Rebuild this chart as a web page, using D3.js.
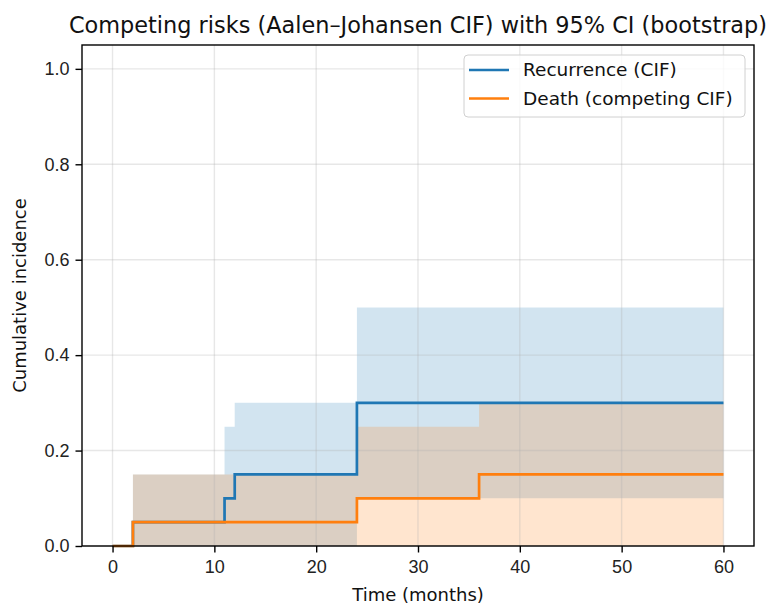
<!DOCTYPE html>
<html>
<head>
    <title>Competing risks CIF</title>
    <script src="https://d3js.org/d3.v7.min.js"></script>
    <style>
        body { margin: 0; background: #fff; }
        svg { font-family: "DejaVu Sans", sans-serif; }
        .tick text { font-size: 18px; fill: #222; }
        .tick line { stroke: #000; stroke-width: 1.4; }
        .domain { display: none; }
    </style>
</head>
<body>
    <div id="chart"></div>
    <script>
        // step-function estimates (step changes at each time, held until the next)
        var times = [0, 2, 11, 12, 24, 36, 60];
        var recurrenceCif = [0, 0.05, 0.10, 0.15, 0.30, 0.30, 0.30];
        var recurrenceLo  = [0, 0.00, 0.00, 0.00, 0.10, 0.10, 0.10];
        var recurrenceHi  = [0, 0.15, 0.25, 0.30, 0.50, 0.50, 0.50];
        var deathCif = [0, 0.05, 0.05, 0.05, 0.10, 0.15, 0.15];
        var deathLo  = [0, 0.00, 0.00, 0.00, 0.00, 0.00, 0.00];
        var deathHi  = [0, 0.15, 0.15, 0.15, 0.25, 0.30, 0.30];
        var xTicks = [0, 10, 20, 30, 40, 50, 60];
        var yTicks = [0, 0.2, 0.4, 0.6, 0.8, 1.0];
        var seriesNames = ["Recurrence (CIF)", "Death (competing CIF)"];

        var width = 772, height = 615;
        var margin = {top: 45, right: 18, bottom: 69, left: 82};
        var innerW = width - margin.left - margin.right,
            innerH = height - margin.top - margin.bottom;

        var color = d3.scaleOrdinal()
            .domain(seriesNames)
            .range(["#1f77b4", "#ff7f0e"]);

        var x = d3.scaleLinear().domain([-3, 63]).range([0, innerW]);
        var y = d3.scaleLinear().domain([0, 1.05]).range([innerH, 0]);

        var svg = d3.select("#chart").append("svg")
            .attr("width", width)
            .attr("height", height);

        var g = svg.append("g")
            .attr("transform", "translate(" + margin.left + "," + margin.top + ")");

        function rows(est, lo, hi) {
            return times.map(function(t, i) {
                return {t: t, est: est[i], lo: lo[i], hi: hi[i]};
            });
        }
        var series = [
            {name: seriesNames[0], rows: rows(recurrenceCif, recurrenceLo, recurrenceHi)},
            {name: seriesNames[1], rows: rows(deathCif, deathLo, deathHi)}
        ];

        var area = d3.area()
            .curve(d3.curveStepAfter)
            .x(function(d) { return x(d.t); })
            .y0(function(d) { return y(d.lo); })
            .y1(function(d) { return y(d.hi); });

        var line = d3.line()
            .curve(d3.curveStepAfter)
            .x(function(d) { return x(d.t); })
            .y(function(d) { return y(d.est); });

        // confidence bands
        series.forEach(function(s) {
            g.append("path")
                .attr("d", area(s.rows))
                .attr("fill", color(s.name))
                .attr("fill-opacity", 0.2);
        });

        // grid
        g.append("g").selectAll("line")
            .data(xTicks).enter().append("line")
            .attr("x1", x).attr("x2", x)
            .attr("y1", 0).attr("y2", innerH)
            .attr("stroke", "#b0b0b0").attr("stroke-opacity", 0.3).attr("stroke-width", 1.4);
        g.append("g").selectAll("line")
            .data(yTicks).enter().append("line")
            .attr("y1", y).attr("y2", y)
            .attr("x1", 0).attr("x2", innerW)
            .attr("stroke", "#b0b0b0").attr("stroke-opacity", 0.3).attr("stroke-width", 1.4);

        // estimate lines
        series.forEach(function(s) {
            g.append("path")
                .attr("d", line(s.rows))
                .attr("fill", "none")
                .attr("stroke", color(s.name))
                .attr("stroke-width", 2.7);
        });

        // axes
        g.append("g")
            .attr("transform", "translate(0," + innerH + ")")
            .call(d3.axisBottom(x).tickValues(xTicks).tickSize(6.5).tickPadding(8).tickFormat(d3.format("d")));
        g.append("g")
            .call(d3.axisLeft(y).tickValues(yTicks).tickSize(6.5).tickPadding(6).tickFormat(d3.format(".1f")));

        g.append("rect")
            .attr("width", innerW).attr("height", innerH)
            .attr("fill", "none").attr("stroke", "#000").attr("stroke-width", 1.4);

        // titles
        svg.append("text")
            .attr("x", margin.left + innerW / 2)
            .attr("y", 33)
            .attr("text-anchor", "middle")
            .style("font-size", "22.4px")
            .style("fill", "#111")
            .text("Competing risks (Aalen\u2013Johansen CIF) with 95% CI (bootstrap)");

        svg.append("text")
            .attr("x", margin.left + innerW / 2)
            .attr("y", 601)
            .attr("text-anchor", "middle")
            .style("font-size", "18px")
            .style("fill", "#111")
            .text("Time (months)");

        svg.append("text")
            .attr("transform", "translate(26," + (margin.top + innerH / 2) + ") rotate(-90)")
            .attr("text-anchor", "middle")
            .style("font-size", "18px")
            .style("fill", "#111")
            .text("Cumulative incidence");

        // legend
        var legend = g.append("g")
            .attr("transform", "translate(" + (464 - margin.left) + "," + (55 - margin.top) + ")");
        legend.append("rect")
            .attr("width", 281).attr("height", 62)
            .attr("rx", 4).attr("ry", 4)
            .attr("fill", "#fff").attr("fill-opacity", 0.8)
            .attr("stroke", "#d0d0d0");

        var item = legend.selectAll(".legend")
            .data(seriesNames)
            .enter().append("g")
            .attr("class", "legend")
            .attr("transform", function(d, i) { return "translate(0," + (15 + i * 28.5) + ")"; });
        item.append("line")
            .attr("x1", 5).attr("x2", 45)
            .attr("stroke", color)
            .attr("stroke-width", 2.7);
        item.append("text")
            .attr("x", 59)
            .attr("dy", "0.35em")
            .style("font-size", "18.5px")
            .style("fill", "#111")
            .text(function(d) { return d; });
    </script>
</body>
</html>
